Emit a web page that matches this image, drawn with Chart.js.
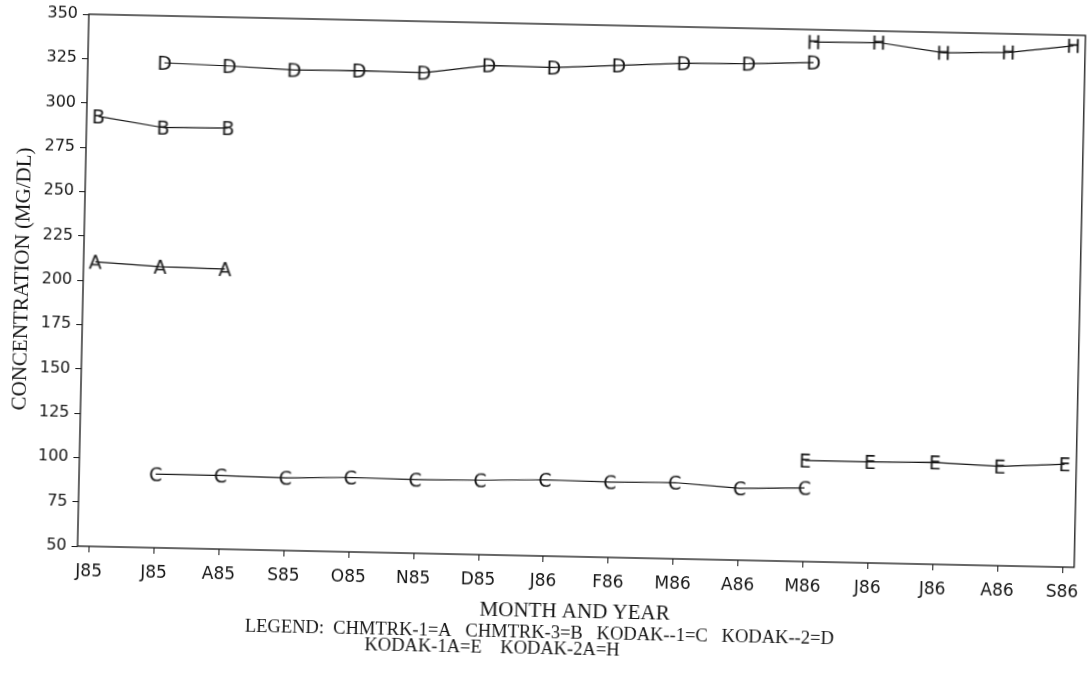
<!DOCTYPE html>
<html>
<head>
<meta charset="utf-8">
<title>Concentration (MG/DL) by month</title>
<script src="https://cdn.jsdelivr.net/npm/chart.js@4.4.1/dist/chart.umd.min.js"></script>
<style>
    html, body { margin: 0; padding: 0; background: #fff; overflow: hidden; }
    /* 原图是略微倾斜的扫描件 */
    #wrap { width: 1088px; height: 684px; transform: rotate(1.22deg); transform-origin: 544px 342px; }
</style>
</head>
<body>
<div id="wrap"><canvas id="concChart" width="1088" height="684"></canvas></div>
<script>
// 月份标签
const months = ['J85', 'J85', 'A85', 'S85', 'O85', 'N85', 'D85', 'J86', 'F86', 'M86', 'A86', 'M86', 'J86', 'J86', 'A86', 'S86'];

// Y 轴刻度
const yTickValues = [50, 75, 100, 125, 150, 175, 200, 225, 250, 275, 300, 325, 350];

// 各仪器数据 (MG/DL)
const chmtrk1 = [210.5, 208.5, 208, null, null, null, null, null, null, null, null, null, null, null, null, null];
const chmtrk3 = [292.5, 287, 287.5, null, null, null, null, null, null, null, null, null, null, null, null, null];
const kodak1 = [null, 91.5, 91.5, 91, 92, 91.5, 92, 93, 92.5, 93, 90.5, 91.5, null, null, null, null];
const kodak2 = [null, 323.5, 322.5, 321, 321.5, 321, 326, 325.5, 327.5, 329.5, 330, 331.5, null, null, null, null];
const kodak1a = [null, null, null, null, null, null, null, null, null, null, null, 107, 107, 107.5, 106, 108];
const kodak2a = [null, null, null, null, null, null, null, null, null, null, null, 343, 343.5, 338.5, 339.5, 344];

// 图例
const seriesNames = ['CHMTRK-1', 'CHMTRK-3', 'KODAK--1', 'KODAK--2', 'KODAK-1A', 'KODAK-2A'];
const seriesLetters = ['A', 'B', 'C', 'D', 'E', 'H'];
const seriesValues = [chmtrk1, chmtrk3, kodak1, kodak2, kodak1a, kodak2a];
const legendLines = [
    'LEGEND:  CHMTRK-1=A   CHMTRK-3=B   KODAK--1=C   KODAK--2=D',
    'KODAK-1A=E    KODAK-2A=H'
];

const INK = '#151515';
const SANS = '"DejaVu Sans", "Liberation Sans", sans-serif';
const SERIF = '"Liberation Serif", "Times New Roman", serif';

// 用字母作为数据点标记
function makeLetter(ch) {
    const c = document.createElement('canvas');
    c.width = 22;
    c.height = 22;
    const g = c.getContext('2d');
    g.font = '19px ' + SANS;
    g.fillStyle = INK;
    g.textAlign = 'center';
    g.textBaseline = 'alphabetic';
    g.fillText(ch, 11, 18);
    return c;
}

// 绘图区边框
const frameBorder = {
    id: 'frameBorder',
    beforeDatasetsDraw(chart) {
        const { ctx, chartArea: a } = chart;
        ctx.save();
        ctx.strokeStyle = INK;
        ctx.lineWidth = 1.3;
        ctx.strokeRect(a.left, a.top, a.right - a.left, a.bottom - a.top);
        ctx.restore();
    }
};

// 底部图例文字
const legendText = {
    id: 'legendText',
    afterDraw(chart) {
        const ctx = chart.ctx;
        ctx.save();
        ctx.font = '18.5px ' + SERIF;
        ctx.fillStyle = INK;
        ctx.textAlign = 'left';
        ctx.textBaseline = 'middle';
        ctx.fillText(legendLines[0], 251, 633);
        ctx.fillText(legendLines[1], 371, 649);
        ctx.restore();
    }
};

const datasets = seriesValues.map((values, i) => ({
    label: seriesNames[i],
    data: values.map((v, idx) => ({ x: idx, y: v })),
    borderColor: INK,
    borderWidth: 1.2,
    tension: 0,
    spanGaps: false,
    pointStyle: makeLetter(seriesLetters[i]),
    pointRadius: 8
}));

const ctx = document.getElementById('concChart').getContext('2d');
new Chart(ctx, {
    type: 'line',
    data: { datasets },
    options: {
        responsive: false,
        animation: false,
        events: [],
        layout: {
            padding: { top: 24, right: 7, left: 0, bottom: 0 }
        },
        plugins: {
            legend: { display: false },
            tooltip: { enabled: false }
        },
        scales: {
            x: {
                type: 'linear',
                min: -0.18,
                max: 15.18,
                afterFit(scale) {
                    scale.height = 128;
                    scale.paddingLeft = 0;
                    scale.paddingRight = 0;
                },
                border: { display: false },
                grid: { drawOnChartArea: false, drawTicks: true, tickLength: 6, color: INK },
                ticks: {
                    stepSize: 1,
                    includeBounds: false,
                    autoSkip: false,
                    maxRotation: 0,
                    padding: 9,
                    color: INK,
                    font: { family: SANS, size: 17 },
                    callback: v => months[v] || ''
                },
                title: {
                    display: true,
                    text: 'MONTH AND YEAR',
                    color: INK,
                    font: { family: SERIF, size: 21 },
                    padding: { top: 0, bottom: 60 }
                }
            },
            y: {
                min: yTickValues[0],
                max: yTickValues[yTickValues.length - 1],
                afterFit(scale) { scale.width = 82; },
                border: { display: false },
                grid: { drawOnChartArea: false, drawTicks: true, tickLength: 6, color: INK },
                ticks: {
                    stepSize: yTickValues[1] - yTickValues[0],
                    padding: 5,
                    color: INK,
                    font: { family: SANS, size: 16 }
                },
                title: {
                    display: true,
                    text: 'CONCENTRATION (MG/DL)',
                    color: INK,
                    font: { family: SERIF, size: 21 },
                    padding: { top: 9, bottom: 0 }
                }
            }
        }
    },
    plugins: [frameBorder, legendText]
});
</script>
</body>
</html>
